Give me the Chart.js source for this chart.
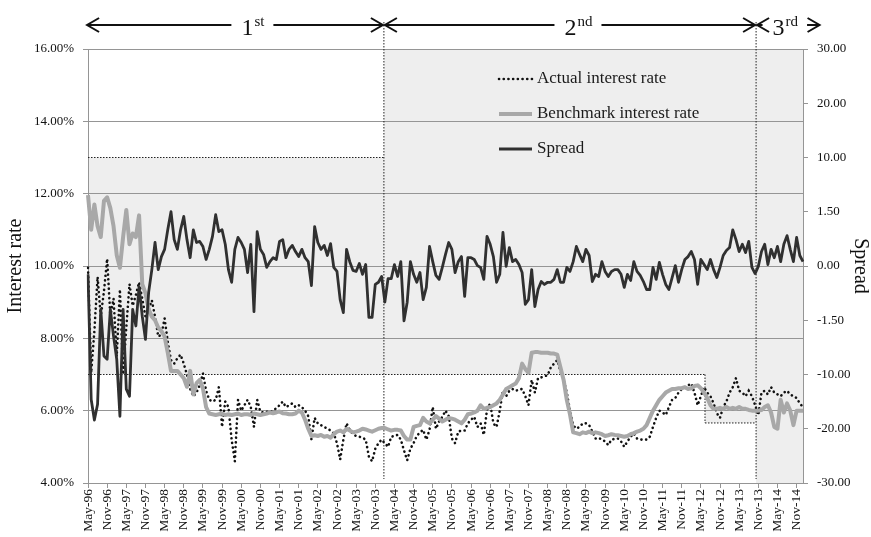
<!DOCTYPE html>
<html>
<head>
<meta charset="utf-8">
<script src="https://cdn.jsdelivr.net/npm/chart.js@4.4.1/dist/chart.umd.min.js"></script>
<style>
  html, body { margin: 0; padding: 0; background: #fff; }
  #wrap { width: 871px; height: 537px; }
</style>
</head>
<body>
<div id="wrap"><canvas id="myChart" width="871" height="537"></canvas></div>
<script>
// monthly series, May-96 .. Jan-15 (one row per calendar year)
const actualRate = [
  9.95, 7.05, 8.2, 9.7, 8.6, 9.3, 10.2, 8.6,
  9.1, 7.5, 9.35, 7.0, 8.3, 9.5, 8.9, 9.2, 9.55, 9.1, 8.6, 8.8,
  9.05, 8.6, 8.05, 8.1, 8.55, 7.9, 7.4, 7.3, 7.45, 7.55, 7.3, 7.0,
  6.6, 6.4, 6.5, 6.7, 7.03, 6.55, 6.3, 6.25, 6.3, 6.65, 5.55, 6.25,
  6.1, 5.2, 4.6, 6.3, 6.0, 6.15, 6.3, 6.1, 5.55, 6.3, 5.97, 5.95,
  5.97, 5.95, 6.0, 6.07, 6.15, 6.25, 6.1, 6.15, 6.2, 6.1, 6.15, 6.1,
  6.0, 5.85, 5.2, 5.8, 5.65, 5.6, 5.55, 5.5, 5.45, 5.37, 5.1, 4.65,
  5.2, 5.65, 5.47, 5.35, 5.3, 5.28, 5.25, 5.2, 4.73, 4.6, 4.95, 5.1,
  5.2, 5.1, 5.0, 5.28, 5.3, 5.33, 5.2, 4.9, 4.63, 4.95, 5.1, 5.3,
  5.4, 5.47, 5.2, 5.47, 6.1, 5.5, 5.7, 5.83, 6.0, 5.85, 5.23, 5.1,
  5.42, 5.45, 5.45, 5.65, 5.75, 5.83, 5.55, 5.65, 5.33, 6.02, 6.2, 5.65,
  5.55, 6.0, 6.55, 6.4, 6.55, 6.6, 6.55, 6.58, 6.6, 6.4, 6.15, 6.85,
  6.5, 6.9, 6.92, 6.95, 6.98, 7.2, 7.3, 7.4, 7.1, 6.85, 6.5, 6.0,
  5.6, 5.5, 5.55, 5.65, 5.65, 5.6, 5.42, 5.23, 5.25, 5.2, 5.15, 5.05,
  5.2, 5.22, 5.23, 5.15, 5.0, 5.15, 5.28, 5.37, 5.23, 5.2, 5.2, 5.2,
  5.28, 5.55, 5.8, 6.0, 5.95, 5.88, 6.1, 6.3, 6.35, 6.5, 6.6, 6.65,
  6.7, 6.75, 6.5, 6.15, 6.4, 6.65, 6.5, 6.4, 6.2, 5.93, 5.8, 6.1,
  6.25, 6.5, 6.65, 6.9, 6.55, 6.5, 6.4, 6.55, 6.4, 6.15, 5.88, 6.5,
  6.55, 6.45, 6.65, 6.5, 6.45, 6.4, 6.5, 6.55, 6.45, 6.4, 6.35, 6.2,
  6.1
];

const benchmarkRate = [
  11.96, 11.0, 11.7, 11.1, 10.8, 11.8, 11.9, 11.6,
  11.1, 10.3, 9.95, 10.8, 11.55, 10.6, 10.9, 10.8, 11.4, 9.5, 9.25, 8.8,
  8.6, 8.5, 8.3, 8.2, 8.05, 7.6, 7.1, 7.1, 7.1, 7.0, 6.9, 6.66,
  7.1, 6.45, 6.76, 6.85, 6.62, 6.1, 5.92, 5.9, 5.88, 5.9, 5.92, 5.88,
  5.9, 5.88, 5.9, 5.92, 5.88, 5.9, 5.9, 5.88, 5.92, 5.9, 5.88, 5.9,
  5.92, 5.95, 5.93, 5.95, 5.98, 5.93, 5.92, 5.9, 5.9, 5.92, 6.0, 5.95,
  5.75, 5.5, 5.3, 5.32, 5.3, 5.33, 5.28, 5.3, 5.25, 5.35, 5.42, 5.45,
  5.4, 5.5, 5.45, 5.4, 5.42, 5.45, 5.5, 5.48, 5.45, 5.42, 5.46, 5.5,
  5.52, 5.52, 5.48, 5.45, 5.47, 5.47, 5.45, 5.3, 5.2, 5.2, 5.55, 5.58,
  5.6, 5.8, 5.7, 5.65, 5.75, 5.85, 5.78, 5.7, 5.75, 5.8, 5.78, 5.75,
  5.7, 5.65, 5.75, 5.9, 5.92, 5.95, 6.0, 6.15, 6.05, 6.08, 6.1, 6.15,
  6.2, 6.3, 6.45, 6.6, 6.65, 6.7, 6.75, 6.9, 7.3, 7.15, 7.05, 7.6,
  7.62, 7.62, 7.6, 7.6, 7.6, 7.58, 7.58, 7.55, 7.2, 6.85, 6.3, 5.9,
  5.4, 5.38, 5.35, 5.4, 5.38, 5.42, 5.38, 5.4, 5.38, 5.35, 5.3, 5.32,
  5.35, 5.33, 5.32, 5.3, 5.28, 5.3, 5.35, 5.38, 5.42, 5.45, 5.5, 5.6,
  5.8, 6.0, 6.15, 6.3, 6.4, 6.5, 6.55, 6.6, 6.6, 6.62, 6.62, 6.65,
  6.6, 6.62, 6.68, 6.7, 6.62, 6.5, 6.35, 6.15, 6.05, 6.05, 6.08, 6.05,
  6.1, 6.05, 6.08, 6.05, 6.1, 6.05, 6.05, 6.02, 6.0, 6.0, 6.0, 6.02,
  6.1, 6.15, 5.95, 5.55, 5.5, 6.3, 5.95, 6.2, 6.0, 5.6, 6.0, 6.0,
  6.0
];

const spreadValues = [
  -0.23, -14.6, -18.4, -15.5, -1.2, -7.1, -7.6, -1.2,
  -4.0, -7.6, -17.7, -1.2, -12.7, -14.0, -1.2, -2.4, -0.57, -1.39, -4.5, -0.73,
  -0.1, 0.65, -0.1, 0.26, 0.46, 1.01, 1.51, 0.73, 0.46, 1.0, 1.37, 0.73,
  0.23, 1.0, 0.65, 0.68, 0.54, 0.18, 0.46, 0.82, 1.42, 0.95, 1.0, 0.6,
  -0.1, -0.45, 0.46, 0.79, 0.65, 0.46, -0.18, 0.6, -1.26, 0.95, 0.46, 0.32,
  -0.04, 0.12, 0.23, 0.18, 0.68, 0.73, 0.23, 0.46, 0.57, 0.4, 0.26, 0.46,
  0.23, 0.12, -0.54, 1.09, 0.65, 0.46, 0.57, 0.29, 0.62, -0.04, -0.15, -0.93,
  -1.29, 0.46, 0.12, -0.12, -0.15, 0.07, -0.23, 0.04, -1.42, -1.42, -0.51, -0.45,
  -0.29, -1.0, -0.35, -0.35, 0.04, -0.29, 0.12, -1.59, -1.0, 0.12, -0.23, -0.45,
  -0.18, -0.93, -0.59, 0.54, 0.12, -0.26, -0.37, -0.04, 0.32, 0.65, 0.46, -0.18,
  0.12, 0.26, -0.84, 0.23, 0.23, 0.18, 0.01, -0.04, -0.37, 0.82, 0.6, 0.26,
  -0.45, -0.23, 0.93, -0.01, 0.51, 0.12, 0.18, 0.04, -0.18, -1.06, -0.93, -0.1,
  -1.12, -0.65, -0.43, -0.51, -0.45, -0.45, -0.37, -0.1, -0.45, -0.45, -0.04, -0.15,
  0.12, 0.54, 0.32, 0.12, 0.46, 0.29, -0.43, -0.23, -0.29, 0.12, -0.15, -0.29,
  -0.15, -0.1, -0.1, -0.23, -0.59, -0.23, -0.4, 0.12, -0.15, -0.26, -0.43, -0.65,
  -0.65, -0.04, -0.37, 0.1, -0.23, -0.51, -0.65, -0.32, 0.01, -0.45, -0.1, 0.18,
  0.26, 0.4, 0.18, -0.51, 0.18, 0.04, -0.1, 0.18, -0.1, -0.32, -0.04, 0.29,
  0.43, 0.51, 1.0, 0.73, 0.4, 0.6, 0.37, 0.68, -0.04, -0.21, -0.01, 0.4,
  0.6, 0.04, 0.46, 0.23, 0.54, 0.12, 0.6, 0.84, 0.46, 0.12, 0.79, 0.29,
  0.12
];

// right axis is broken: these values sit on equally spaced ticks
const spreadTicks = [-30, -20, -10, -1.5, 0, 1.5, 10, 20, 30];
const spreadTickLabels = spreadTicks.map(v => v.toFixed(2));

const monthNames = ["Jan","Feb","Mar","Apr","May","Jun","Jul","Aug","Sep","Oct","Nov","Dec"];
const labels = [];
for (let i = 0; i < actualRate.length; i++) {
  const m = (4 + i) % 12;
  const yr = (96 + Math.floor((4 + i) / 12)) % 100;
  labels.push(monthNames[m] + "-" + String(yr).padStart(2, "0"));
}

// periods (in month index) for the arrows on top
const periods = [
  { num: "1", sup: "st", from: -0.6, to: 92.7, at: 51.5 },
  { num: "2", sup: "nd", from: 92.7, to: 209.3, at: 153.5 },
  { num: "3", sup: "rd", from: 209.3, to: 229.5, at: 218.3 },
];

// map a spread value onto the evenly spaced broken axis (-4..4)
function spreadToAxis(s) {
  for (let k = 0; k < spreadTicks.length - 1; k++) {
    if (s <= spreadTicks[k + 1]) {
      return k - 4 + (s - spreadTicks[k]) / (spreadTicks[k + 1] - spreadTicks[k]);
    }
  }
  return 4;
}

Chart.defaults.font.family = "'Liberation Serif', 'Times New Roman', serif";
Chart.defaults.color = "#111";

const GRID = "#959595";
const SHADE = "#eeeeee";

const data = {
  labels: labels,
  datasets: [
    {
      label: "Actual interest rate",
      data: actualRate,
      yAxisID: "y",
      borderColor: "#111",
      borderWidth: 2.6,
      borderDash: [0.1, 4.6],
      borderCapStyle: "round",
      pointRadius: 0,
      order: 3,
    },
    {
      label: "Benchmark interest rate",
      data: benchmarkRate,
      yAxisID: "y",
      borderColor: "#a8a8a8",
      borderWidth: 4,
      borderJoinStyle: "round",
      pointRadius: 0,
      order: 2,
    },
    {
      label: "Spread",
      data: spreadValues.map(spreadToAxis),
      yAxisID: "y1",
      borderColor: "#303030",
      borderWidth: 2.8,
      borderJoinStyle: "round",
      pointRadius: 0,
      order: 1,
    },
  ],
};

// gray background zones, dotted period boxes, top arrows and the legend
const shadePlugin = {
  id: "shade",
  beforeDraw(chart) {
    const { ctx, chartArea: a, scales } = chart;
    const px = v => scales.x.getPixelForValue(v);
    const py = v => scales.y.getPixelForValue(v);
    ctx.save();
    ctx.fillStyle = SHADE;
    ctx.beginPath();
    ctx.moveTo(a.left, py(13));
    ctx.lineTo(px(92.7), py(13));
    ctx.lineTo(px(92.7), a.top);
    ctx.lineTo(a.right, a.top);
    ctx.lineTo(a.right, a.bottom);
    ctx.lineTo(px(209.3), a.bottom);
    ctx.lineTo(px(209.3), py(5.66));
    ctx.lineTo(px(193.3), py(5.66));
    ctx.lineTo(px(193.3), py(7));
    ctx.lineTo(a.left, py(7));
    ctx.closePath();
    ctx.fill();
    ctx.restore();
  },
  beforeDatasetsDraw(chart) {
    const { ctx, chartArea: a, scales } = chart;
    const px = v => scales.x.getPixelForValue(v);
    const py = v => scales.y.getPixelForValue(v);
    ctx.save();
    ctx.strokeStyle = "#222";
    ctx.lineWidth = 1;
    ctx.setLineDash([1.5, 1.5]);
    const seg = (x1, y1, x2, y2) => {
      ctx.beginPath();
      ctx.moveTo(x1, y1);
      ctx.lineTo(x2, y2);
      ctx.stroke();
    };
    seg(a.left, py(13), px(92.7), py(13));
    seg(a.left, py(7), px(193.3), py(7));
    seg(px(193.3), py(7), px(193.3), py(5.66));
    seg(px(193.3), py(5.66), px(209.3), py(5.66));
    seg(px(92.7), 22, px(92.7), a.bottom - 4);
    seg(px(209.3), 22, px(209.3), a.bottom - 4);
    ctx.restore();
  },
  afterDraw(chart) {
    const { ctx, scales } = chart;
    const px = v => scales.x.getPixelForValue(v);
    ctx.save();
    ctx.strokeStyle = "#111";
    ctx.fillStyle = "#111";
    ctx.lineWidth = 2;
    const ay = 25;
    const head = (x, dir) => {
      ctx.beginPath();
      ctx.moveTo(x - dir * 12, ay - 7);
      ctx.lineTo(x, ay);
      ctx.lineTo(x - dir * 12, ay + 7);
      ctx.stroke();
    };
    periods.forEach(p => {
      const x1 = px(p.from) + 1;
      const x2 = px(p.to) - 1;
      const cx = px(p.at);
      ctx.font = "24px 'Liberation Serif', serif";
      const w1 = ctx.measureText(p.num).width;
      ctx.font = "15px 'Liberation Serif', serif";
      const w2 = ctx.measureText(p.sup).width;
      const tx = cx - (w1 + w2) / 2;
      ctx.textBaseline = "alphabetic";
      ctx.textAlign = "left";
      ctx.font = "24px 'Liberation Serif', serif";
      ctx.fillText(p.num, tx, 35);
      ctx.font = "15px 'Liberation Serif', serif";
      ctx.fillText(p.sup, tx + w1 + 1, 26);
      const gap = 10;
      if (tx - gap > x1) {
        ctx.beginPath(); ctx.moveTo(x1, ay); ctx.lineTo(tx - gap, ay); ctx.stroke();
      }
      if (tx + w1 + w2 + gap < x2) {
        ctx.beginPath(); ctx.moveTo(tx + w1 + w2 + gap, ay); ctx.lineTo(x2, ay); ctx.stroke();
      }
      head(x1, -1);
      head(x2, 1);
    });

    // legend inside the plot
    const items = [
      { y: 79, text: "Actual interest rate", color: "#111", width: 2.6, dash: [0.1, 4.6], cap: "round", x2: 534 },
      { y: 114, text: "Benchmark interest rate", color: "#a8a8a8", width: 4, dash: [], cap: "butt", x2: 532 },
      { y: 149, text: "Spread", color: "#303030", width: 2.8, dash: [], cap: "butt", x2: 532 },
    ];
    items.forEach(it => {
      ctx.strokeStyle = it.color;
      ctx.lineWidth = it.width;
      ctx.setLineDash(it.dash);
      ctx.lineCap = it.cap;
      ctx.beginPath();
      ctx.moveTo(499, it.y);
      ctx.lineTo(it.x2, it.y);
      ctx.stroke();
      ctx.setLineDash([]);
      ctx.lineCap = "butt";
      ctx.fillStyle = "#1a1a1a";
      ctx.font = "17px 'Liberation Serif', serif";
      ctx.textAlign = "left";
      ctx.textBaseline = "middle";
      ctx.fillText(it.text, 537, it.y);
    });
    ctx.restore();
  },
};

const config = {
  type: "line",
  data: data,
  options: {
    responsive: false,
    animation: false,
    devicePixelRatio: 1,
    layout: { padding: { top: 49, left: 0, right: 0, bottom: 0 } },
    elements: { line: { tension: 0 } },
    plugins: {
      legend: { display: false },
      tooltip: { enabled: false },
    },
    scales: {
      x: {
        type: "category",
        offset: false,
        grid: { display: true, drawOnChartArea: false, drawTicks: true, tickLength: 5, color: GRID },
        border: { display: true, color: GRID },
        ticks: {
          autoSkip: false,
          minRotation: 90,
          maxRotation: 90,
          padding: 1,
          font: { size: 13.5 },
          color: "#111",
          callback: function (v, idx) {
            return idx % 6 === 0 ? this.getLabelForValue(v) : null;
          },
        },
        afterFit: s => { s.height = 54; },
      },
      y: {
        position: "left",
        min: 4,
        max: 16,
        ticks: {
          stepSize: 2,
          padding: 9,
          font: { size: 13 },
          color: "#111",
          callback: v => v.toFixed(2) + "%",
        },
        grid: { color: GRID, tickLength: 5 },
        border: { color: GRID },
        title: {
          display: true,
          text: "Interest rate",
          color: "#111",
          font: { size: 20, lineHeight: 1 },
          padding: { top: 6, bottom: 0 },
        },
        afterFit: s => { s.width = 88; },
      },
      y1: {
        position: "right",
        min: -4,
        max: 4,
        ticks: {
          stepSize: 1,
          padding: 9,
          font: { size: 13 },
          color: "#111",
          callback: v => spreadTickLabels[Math.round(v) + 4],
        },
        grid: { drawOnChartArea: false, tickLength: 5, color: GRID },
        border: { color: GRID },
        title: {
          display: true,
          text: "Spread",
          color: "#111",
          font: { size: 20, lineHeight: 1 },
          padding: { top: 1, bottom: 0 },
        },
        afterFit: s => { s.width = 68; },
      },
    },
  },
  plugins: [shadePlugin],
};

const context = document.getElementById("myChart").getContext("2d");
const chart = new Chart(context, config);
</script>
</body>
</html>
